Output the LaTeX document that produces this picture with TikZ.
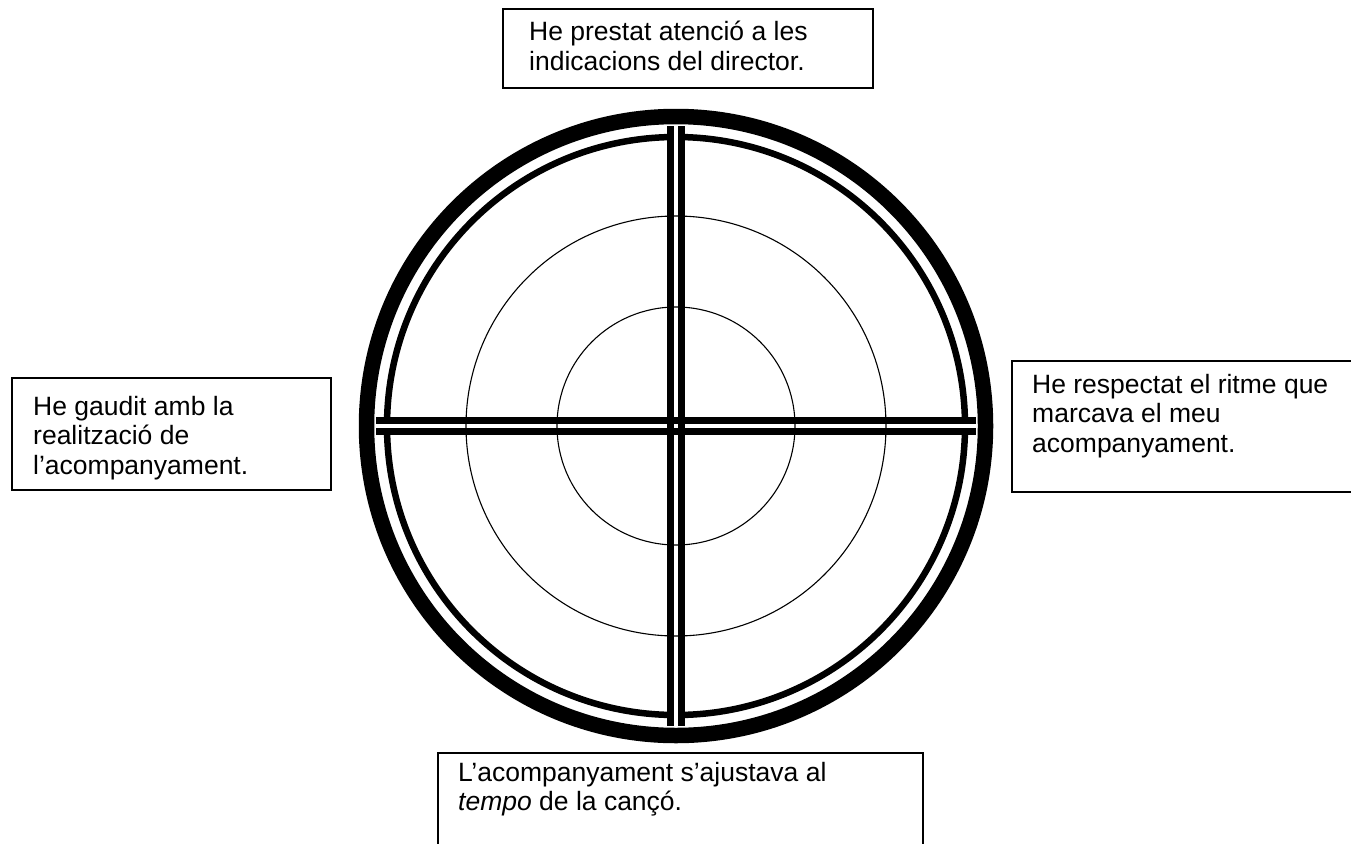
\documentclass[tikz,border=0pt]{standalone}
\usepackage{fontspec}
\setmainfont{Liberation Sans}
\newcommand\boxlines[1]{{\renewcommand\arraystretch{1}\begin{tabular}[t]{@{}l@{}}#1\end{tabular}}}
\begin{document}
\begin{tikzpicture}[x=1pt,y=-1pt,
  frame/.style={draw=black,line width=1.2pt},
  label/.style={anchor=base west,inner sep=0pt,font=\fontsize{26.5}{29.5}\selectfont},
  bar/.style={line width=7pt,black},
  thincirc/.style={line width=1.1pt,black}]
\useasboundingbox (0,0) rectangle (1351,843);
\fill[white] (0,0) rectangle (1351,843);
\coordinate (c) at (676,426);
% inner circles
\draw[thincirc] (c) circle[radius=210];
\draw[thincirc] (c) circle[radius=119];
% thin ring
\draw[line width=6.5pt] (c) circle[radius=289];
% white gaps across thin ring
\fill[white] (674,426-300) rectangle (678,426-278);
\fill[white] (674,426+278) rectangle (678,426+300);
\fill[white] (676-300,424) rectangle (676-278,428);
\fill[white] (676+278,424) rectangle (676+300,428);
% cross bars
\draw[bar] (670.3,126) -- (670.3,726);
\draw[bar] (681.7,126) -- (681.7,726);
\draw[bar] (376,420.5) -- (976,420.5);
\draw[bar] (376,431.5) -- (976,431.5);
% thick ring
\draw[line width=15.5pt] (c) circle[radius=309.5];
% boxes
\draw[frame] (503,9) rectangle (873,88);
\draw[frame] (12,378) rectangle (331,490);
\draw[frame] (1352,361) -- (1012,361) -- (1012,492) -- (1352,492);
\draw[frame] (438,844) -- (438,753) -- (923,753) -- (923,844);
% texts
\node[label] (top) at (529,41) {\boxlines{He prestat atenció a les\\indicacions del director.}};
\node[label] (left) at (33,415) {\boxlines{He gaudit amb la\\realització de\\l’acompanyament.}};
\node[label] (right) at (1032,393) {\boxlines{He respectat el ritme que\\marcava el meu\\acompanyament.}};
\node[label] (bottom) at (458,781) {\boxlines{L’acompanyament s’ajustava al\\\textit{tempo} de la cançó.}};
\end{tikzpicture}
\end{document}
